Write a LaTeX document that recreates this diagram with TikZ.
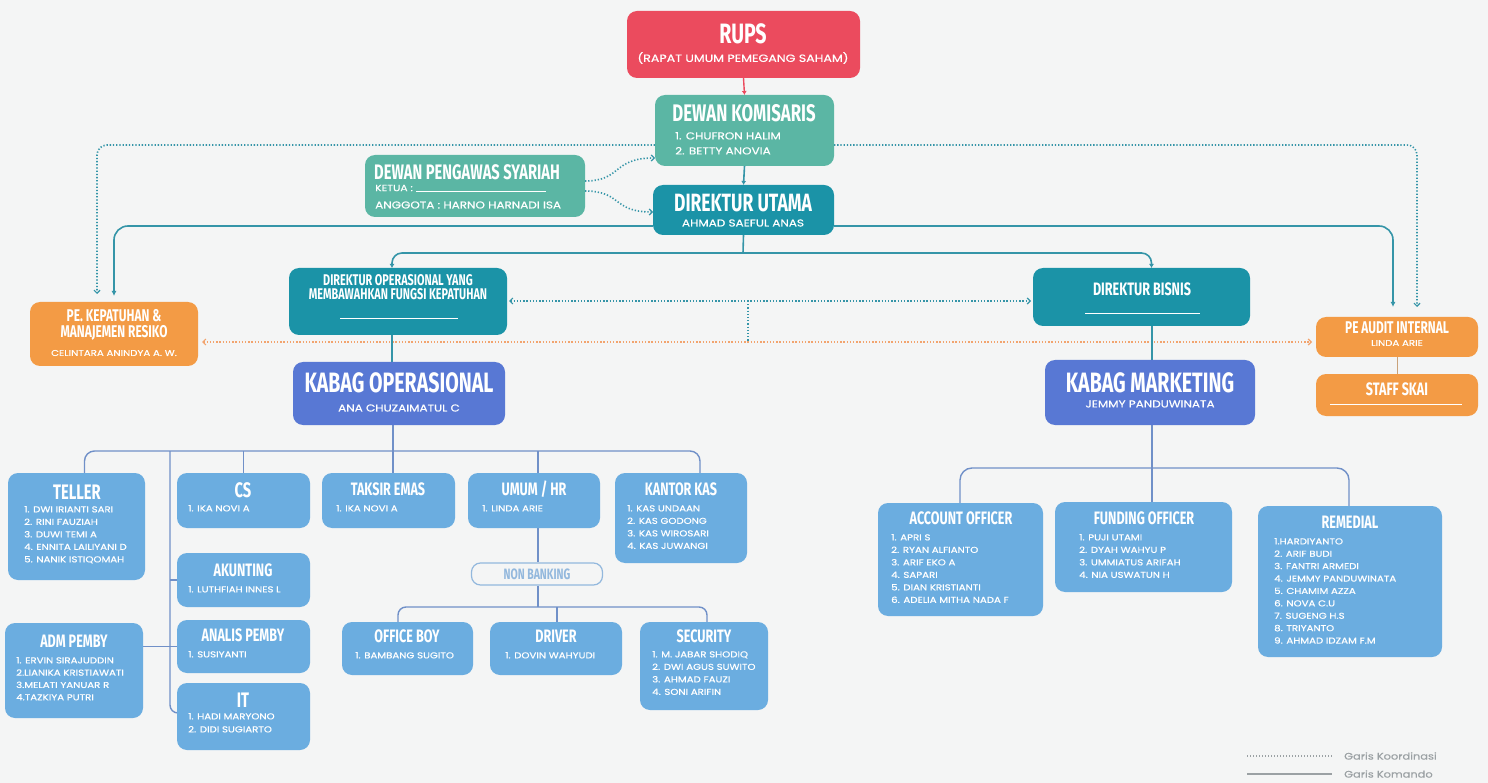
\documentclass[tikz,border=0pt]{standalone}
\usepackage{fontspec}
\usetikzlibrary{arrows.meta}
\newfontfamily\hdfont[FakeStretch=0.7]{Fira Sans}
\newfontfamily\bdfont[FakeStretch=1.2,FakeBold=0.5]{Poppins}
\newcommand\hdf[2]{\hdfont\bfseries\fontsize{#1}{#2}\selectfont}
\newcommand\bdf[2]{\bdfont\fontsize{#1}{#2}\selectfont}
\definecolor{bgc}{HTML}{F4F5F5}
\definecolor{cred}{HTML}{EB4B5E}
\definecolor{cgreen}{HTML}{5BB6A4}
\definecolor{cteal}{HTML}{1B93A7}
\definecolor{corange}{HTML}{F39B45}
\definecolor{cblue}{HTML}{5878D4}
\definecolor{clb}{HTML}{6BADE0}
\definecolor{tealln}{HTML}{3595A8}
\definecolor{bluln}{HTML}{7090C8}
\definecolor{orgdot}{HTML}{F2A46E}
\definecolor{nbc}{HTML}{93B8DD}
\definecolor{lgc}{HTML}{9BA1A4}
\definecolor{skln}{HTML}{C9A27A}
\pgfdeclarelayer{bgfill}
\pgfdeclarelayer{lines}
\pgfsetlayers{bgfill,lines,main}
\newcommand\bx[6]{\node[box,fill=#6,minimum width={(#4)-(#2)},minimum height={(#5)-(#3)}] (#1) at ({((#2)+(#4))/2},{((#3)+(#5))/2}) {};}
\tikzset{
  box/.style={rounded corners=10pt, inner sep=0pt, outer sep=0pt, draw=none},
  ttl/.style={text=white, inner sep=0pt, align=center},
  sub/.style={text=white, inner sep=0pt, font=\bdf{10}{12}},
  lst/.style={text=white, inner sep=0pt, align=left, anchor=north west, font=\bdf{8.5}{12.5}},
  tln/.style={draw=tealln, line width=1.6pt},
  tdot/.style={draw=tealln, line width=1.6pt, dash pattern=on 1.3pt off 1.9pt},
  odot/.style={draw=orgdot, line width=1.6pt, dash pattern=on 1.3pt off 1.9pt},
  bln/.style={draw=bluln, line width=1.4pt},
  ulin/.style={draw=white, line width=0.8pt},
  tip/.style={-{Latex[length=5pt,width=5pt]}},
  barb/.style={-{Straight Barb[length=3pt,width=6pt,line width=1.2pt]}},
  dbarb/.style={{Straight Barb[length=3pt,width=6pt,line width=1.2pt]}-{Straight Barb[length=3pt,width=6pt,line width=1.2pt]}},
}
\begin{document}
\begin{tikzpicture}[x=1pt,y=-1pt]
\begin{pgfonlayer}{bgfill}
\fill[bgc] (0,0) rectangle (1488,783);
\end{pgfonlayer}
\useasboundingbox (0,0) rectangle (1488,783);

% ---------- boxes
\bx{rups}{627}{11}{860}{78}{cred}
\bx{dk}{655}{95}{834}{166}{cgreen}
\bx{du}{653}{185}{834}{235}{cteal}
\bx{dps}{365}{155}{585}{217}{cgreen}
\bx{pek}{30}{302}{198}{366}{corange}
\bx{dop}{289}{268}{507}{335}{cteal}
\bx{dbi}{1033}{268}{1250}{326}{cteal}
\bx{kop}{293}{362}{505}{425}{cblue}
\bx{kmk}{1045}{360}{1255}{425}{cblue}
\bx{pea}{1316}{317}{1478}{357}{corange}
\bx{sks}{1316}{374}{1478}{416}{corange}
\bx{tel}{8}{473}{145}{580}{clb}
\bx{cs}{177}{473}{310}{528}{clb}
\bx{akt}{177}{553}{310}{607}{clb}
\bx{anl}{177}{620}{310}{673}{clb}
\bx{it}{177}{683}{310}{750}{clb}
\bx{adm}{5}{623}{143}{718}{clb}
\bx{tks}{322}{473}{455}{528}{clb}
\bx{umu}{468}{473}{600}{528}{clb}
\bx{kks}{615}{473}{747}{563}{clb}
\bx{ob}{342}{622}{473}{675}{clb}
\bx{drv}{490}{622}{622}{675}{clb}
\bx{sec}{640}{622}{768}{710}{clb}
\bx{ao}{878}{503}{1043}{616}{clb}
\bx{fo}{1055}{502}{1232}{592}{clb}
\bx{rem}{1258}{506}{1442}{657}{clb}
\node[draw=nbc, line width=1.2pt, rounded corners=9pt, minimum width=131, minimum height=22, inner sep=0pt, text=nbc, font=\hdf{15}{15}] (nb) at (537,574) {NON BANKING};

% ---------- texts
\node[ttl, font=\hdf{28}{28}] (rups-t) at (743,34) {RUPS};
\node[sub, font=\bdf{10.5}{12}] (rups-s) at (743,58) {(RAPAT UMUM PEMEGANG SAHAM)};
\node[ttl, font=\hdf{24}{24}] (dk-t) at (744,113) {DEWAN KOMISARIS};
\node[lst, font=\bdf{10}{15}] (dk-l) at (675,132) {1. CHUFRON HALIM\\2. BETTY ANOVIA};
\node[ttl, font=\hdf{25}{25}] (du-t) at (743,203) {DIREKTUR UTAMA};
\node[sub] (du-s) at (743,223) {AHMAD SAEFUL ANAS};
\node[ttl, anchor=west, font=\hdf{21}{21}] (dps-t) at (374,172) {DEWAN PENGAWAS SYARIAH};
\node[sub, anchor=west, font=\bdf{9}{10}] (dps-k) at (375,188) {KETUA :};
\draw[ulin] ([xshift=3pt,yshift=-3pt]dps-k.east) -- ++(130,0);
\node[sub, anchor=west] (dps-a) at (375,205) {ANGGOTA : HARNO HARNADI ISA};
\node[ttl, font=\hdf{15.5}{13.5}] (dop-t) at (398,287) {DIREKTUR OPERASIONAL YANG\\MEMBAWAHKAN FUNGSI KEPATUHAN};
\coordinate (dopu1) at (340,318); \coordinate (dopu2) at (458,318);
\draw[ulin] (dopu1) -- (dopu2);
\node[ttl, font=\hdf{18}{18}] (dbi-t) at (1142,289) {DIREKTUR BISNIS};
\coordinate (dbiu1) at (1085,313); \coordinate (dbiu2) at (1200,313);
\draw[ulin] (dbiu1) -- (dbiu2);
\node[ttl, font=\hdf{17}{15.5}] (pek-t) at (114,325) {PE. KEPATUHAN \&\\MANAJEMEN RESIKO};
\node[sub, font=\bdf{8.5}{10}] (pek-s) at (114,353) {CELINTARA ANINDYA A. W.};
\node[ttl, font=\hdf{28}{28}] (kop-t) at (399,383) {KABAG OPERASIONAL};
\node[sub] (kop-s) at (399,408) {ANA CHUZAIMATUL C};
\node[ttl, font=\hdf{28}{28}] (kmk-t) at (1150,383) {KABAG MARKETING};
\node[sub] (kmk-s) at (1150,404) {JEMMY PANDUWINATA};
\node[ttl, font=\hdf{17}{17}] (pea-t) at (1397,328) {PE AUDIT INTERNAL};
\node[sub, font=\bdf{8.5}{10}] (pea-s) at (1397,343) {LINDA ARIE};
\node[ttl, font=\hdf{18}{18}] (sks-t) at (1397,389) {STAFF SKAI};
\coordinate (sksu1) at (1330,404); \coordinate (sksu2) at (1462,404);
\draw[ulin] (sksu1) -- (sksu2);

\node[ttl, font=\hdf{21}{21}] (tel-t) at (77,492) {TELLER};
\node[lst] (tel-l) at (24,506) {1. DWI IRIANTI SARI\\2. RINI FAUZIAH\\3. DUWI TEMI A\\4. ENNITA LAILIYANI D\\5. NANIK ISTIQOMAH};
\node[ttl, font=\hdf{21}{21}] (cs-t) at (243,490) {CS};
\node[lst] (cs-l) at (188,505) {1. IKA NOVI A};
\node[ttl, font=\hdf{18}{18}] (akt-t) at (243,570) {AKUNTING};
\node[lst] (akt-l) at (188,586) {1. LUTHFIAH INNES L};
\node[ttl, font=\hdf{18}{18}] (anl-t) at (243,635) {ANALIS PEMBY};
\node[lst] (anl-l) at (188,651) {1. SUSIYANTI};
\node[ttl, font=\hdf{21}{21}] (it-t) at (243,700) {IT};
\node[lst, font=\bdf{8.5}{13}] (it-l) at (188,713) {1. HADI MARYONO\\2. DIDI SUGIARTO};
\node[ttl, font=\hdf{18}{18}] (adm-t) at (74,641) {ADM PEMBY};
\node[lst, font=\bdf{8.5}{12.3}] (adm-l) at (16,657) {1. ERVIN SIRAJUDDIN\\2.LIANIKA KRISTIAWATI\\3.MELATI YANUAR R\\4.TAZKIYA PUTRI};
\node[ttl, font=\hdf{18}{18}] (tks-t) at (388,489) {TAKSIR EMAS};
\node[lst] (tks-l) at (336,505) {1. IKA NOVI A};
\node[ttl, font=\hdf{18}{18}] (umu-t) at (534,489) {UMUM / HR};
\node[lst] (umu-l) at (482,505) {1. LINDA ARIE};
\node[ttl, font=\hdf{18}{18}] (kks-t) at (681,489) {KANTOR KAS};
\node[lst] (kks-l) at (627,505) {1. KAS UNDAAN\\2. KAS GODONG\\3. KAS WIROSARI\\4. KAS JUWANGI};
\node[ttl, font=\hdf{18}{18}] (ob-t) at (407,636) {OFFICE BOY};
\node[lst] (ob-l) at (355,652) {1. BAMBANG SUGITO};
\node[ttl, font=\hdf{18}{18}] (drv-t) at (556,636) {DRIVER};
\node[lst] (drv-l) at (505,652) {1. DOVIN WAHYUDI};
\node[ttl, font=\hdf{18}{18}] (sec-t) at (704,636) {SECURITY};
\node[lst] (sec-l) at (652,651) {1. M. JABAR SHODIQ\\2. DWI AGUS SUWITO\\3. AHMAD FAUZI\\4. SONI ARIFIN};
\node[ttl, font=\hdf{18}{18}] (ao-t) at (961,518) {ACCOUNT OFFICER};
\node[lst] (ao-l) at (891,534) {1. APRI S\\2. RYAN ALFIANTO\\3. ARIF EKO A\\4. SAPARI\\5. DIAN KRISTIANTI\\6. ADELIA MITHA NADA F};
\node[ttl, font=\hdf{18}{18}] (fo-t) at (1144,518) {FUNDING OFFICER};
\node[lst] (fo-l) at (1079,534) {1. PUJI UTAMI\\2. DYAH WAHYU P\\3. UMMIATUS ARIFAH\\4. NIA USWATUN H};
\node[ttl, font=\hdf{18}{18}] (rem-t) at (1350,522) {REMEDIAL};
\node[lst, font=\bdf{8.5}{12.4}] (rem-l) at (1274,538) {1.HARDIYANTO\\2. ARIF BUDI\\3. FANTRI ARMEDI\\4. JEMMY PANDUWINATA\\5. CHAMIM AZZA\\6. NOVA C.U\\7. SUGENG H.S\\8. TRIYANTO\\9. AHMAD IDZAM F.M};

% ---------- legend
\node[inner sep=0pt, anchor=west, text=lgc, font=\bdf{9.5}{11}] (lg1) at (1344,756) {Garis Koordinasi};
\node[inner sep=0pt, anchor=west, text=lgc, font=\bdf{9.5}{11}] (lg2) at (1344,774) {Garis Komando};
\coordinate (la) at (1247,756);
\coordinate (lc) at (1247,774);

% ---------- connectors
\begin{pgfonlayer}{lines}
\draw[draw=cred, line width=1.4pt, -{Latex[length=4pt,width=5pt]}] (rups.south) -- (dk.north);
\draw[tln, -{Latex[length=4pt,width=5pt]}] (dk.south) -- (du.north);
% DPS coordination
\draw[tdot, barb] (dps.east |- 0,181) .. controls (622,181) and (612,158) .. (dk.west |- 0,158);
\draw[tdot, barb] (dps.east |- 0,191) .. controls (622,191) and (612,212) .. (du.west |- 0,212);
% DK coordination to PE
\draw[tdot, barb, rounded corners=10pt, shorten >=8pt] (dk.west |- 0,145) -| ([xshift=-17pt]pek.north);
\draw[tdot, barb, rounded corners=10pt, shorten >=10pt] (dk.east |- 0,145) -| ([xshift=20pt]pea.north);
% DU command to PE
\draw[tln, tip, rounded corners=14pt, shorten >=6pt] (du.west |- 0,226) -| (pek.north);
\draw[tln, tip, rounded corners=14pt, shorten >=10pt] (du.east |- 0,226) -| ([xshift=-4pt]pea.north);
% DU to directors
\coordinate (sp) at (743,253);
\draw[tln] (du.south) -- (sp);
\draw[tln, rounded corners=10pt, {Latex[length=4pt,width=5pt]}-{Latex[length=4pt,width=5pt]}] ([xshift=-6pt]dop.north) |- (sp) -| ([xshift=10pt]dbi.north);
\draw[tdot, dbarb, shorten <=2pt, shorten >=2pt] (dop.east |- 0,301) -- (dbi.west |- 0,301);
\coordinate (m1) at (748,301); \coordinate (m2) at (748,342);
\draw[tdot] (m1) -- (m2);
\draw[odot, dbarb, shorten <=4pt, shorten >=4pt] (pek.east |- 0,342) -- (pea.west |- 0,342);
\draw[tln] (dop.south -| 392,0) -- (kop.north -| 392,0);
\draw[tln] (dbi.south -| 1152,0) -- (kmk.north -| 1152,0);
\draw[draw=skln, line width=1pt] (pea.south) -- (sks.north);
% operational tree
\coordinate (h1) at (393,451);
\draw[bln] (kop.south -| h1) -- (tks.north -| h1);
\draw[bln, rounded corners=10pt] ([xshift=8pt]tel.north) |- (h1) -| ([xshift=19pt]kks.north);
\draw[bln] (cs.north |- h1) -- (cs.north);
\draw[bln] (h1 -| 538,0) -- (umu.north -| 538,0);
\draw[bln, rounded corners=8pt] (h1 -| 170,0) |- (it.west |- 0,713);
\draw[bln] (akt.west -| 170,0) -- (akt.west);
\draw[bln] (anl.west -| adm.east) -- (anl.west);
\draw[bln] (umu.south -| 538,0) -- (nb.north -| 538,0);
\coordinate (h2) at (538,607);
\draw[bln] (nb.south -| h2) -- (h2);
\draw[bln, rounded corners=8pt] (ob.north -| 398,0) |- (h2) -| (sec.north -| 707,0);
\draw[bln] (h2 -| 557,0) -- (drv.north -| 557,0);
% marketing tree
\coordinate (h3) at (1152,468);
\draw[bln] (kmk.south -| h3) -- (fo.north -| h3);
\draw[bln, rounded corners=12pt] (ao.north -| 960,0) |- (h3) -| (rem.north -| 1349,0);
% legend lines
\draw[draw=lgc, line width=1.3pt, dash pattern=on 1.2pt off 1.8pt] (la) -- ([xshift=-12pt]lg1.west);
\draw[draw=lgc, line width=1.6pt] (lc) -- ([xshift=-12pt]lg2.west);
\end{pgfonlayer}
\end{tikzpicture}
\end{document}
